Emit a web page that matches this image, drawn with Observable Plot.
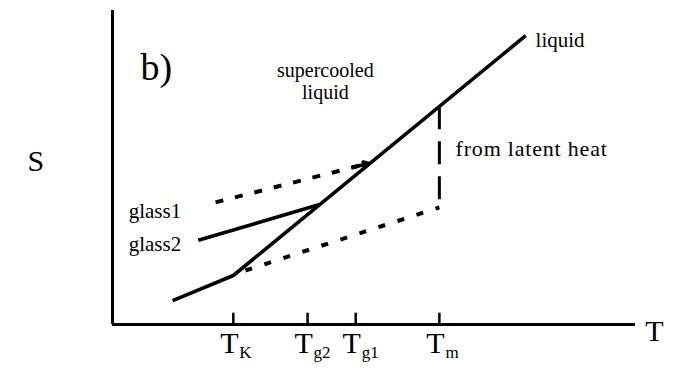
<!DOCTYPE html>
<html>
<head>
<meta charset="utf-8">
<script src="https://cdn.jsdelivr.net/npm/d3@7"></script>
<script src="https://cdn.jsdelivr.net/npm/@observablehq/plot@0.6"></script>
<style>
  body { margin: 0; background: #fff; }
  svg text { font-family: "Liberation Serif", "Times New Roman", serif; }
</style>
</head>
<body>
<div id="chart"></div>
<script>
// Entropy S versus temperature T: liquid, glasses and crystal (schematic units 0–100)

// ideal glass below T_K joined to the liquid / supercooled liquid branch
const liquidT = [11.5, 23.1, 79.0];
const liquidS = [7.6, 15.6, 92.0];

// glass2 (solid) leaving the supercooled liquid
const glass2T = [16.4, 39.6];
const glass2S = [26.8, 38.2];

// glass1 (dashed, with arrow onto the liquid line)
const glass1T = [19.7, 48.9];
const glass1S = [38.9, 51.3];

// crystal (dotted)
const crystalT = [25.4, 62.5];
const crystalS = [17.2, 37.3];

// entropy jump at the melting point, drawn downward from the liquid line
const latentT = [62.5, 62.5];
const latentS = [69.5, 37.3];

// temperature ticks and their subscripts
const tickT = [23.1, 37.3, 46.5, 62.5];
const tickSub = ["K", "g2", "g1", "m"];

// in-plot annotations
const noteText = ["liquid", "glass1", "glass2"];
const noteT = [80.9, 3.1, 3.1];
const noteS = [90.4, 36.0, 25.5];

const pts = (T, S) => T.map((t, i) => ({T: t, S: S[i]}));
const liquid = pts(liquidT, liquidS);
const glass2 = pts(glass2T, glass2S);
const glass1 = pts(glass1T, glass1S);
const crystal = pts(crystalT, crystalS);
const latent = pts(latentT, latentS);
const ticks = tickT.map((t, i) => ({T: t, sub: tickSub[i]}));
const notes = noteText.map((s, i) => ({text: s, T: noteT[i], S: noteS[i]}));

// short solid arrow on the last stretch of glass1
const [g1a, g1b] = glass1;
const f = 0.9;
const glass1Head = [{
  x1: g1a.T + f * (g1b.T - g1a.T), y1: g1a.S + f * (g1b.S - g1a.S),
  x2: g1b.T, y2: g1b.S
}];

const serif = "Liberation Serif";
const lineStyle = {x: "T", y: "S", stroke: "black", strokeWidth: 3.6, strokeLinecap: "butt", curve: "linear"};

const chart = Plot.plot({
  width: 675,
  height: 375,
  marginLeft: 112,
  marginRight: 40,
  marginTop: 10,
  marginBottom: 51,
  x: {domain: [0, 100], axis: null},
  y: {domain: [0, 100], axis: null},
  style: {fontFamily: serif, background: "white", color: "black"},
  marks: [
    // axes
    Plot.ruleX([0], {stroke: "black", strokeWidth: 3}),
    Plot.ruleY([0], {stroke: "black", strokeWidth: 3}),
    Plot.ruleX(ticks, {x: "T", y1: 0, y2: 3.6, stroke: "black", strokeWidth: 2.5}),

    // curves
    Plot.line(liquid, lineStyle),
    Plot.line(glass2, lineStyle),
    Plot.line(glass1, {...lineStyle, strokeWidth: 4, strokeDasharray: "8 12"}),
    Plot.arrow(glass1Head, {x1: "x1", y1: "y1", x2: "x2", y2: "y2", stroke: "black", strokeWidth: 3.6, headLength: 7, bend: 0}),
    Plot.line(crystal, {...lineStyle, strokeWidth: 4, strokeDasharray: "7 13"}),
    Plot.line(latent, {...lineStyle, strokeWidth: 3, strokeDasharray: "23 12"}),

    // tick labels: T with subscript
    Plot.text(ticks, {x: "T", text: () => "T", frameAnchor: "bottom", dx: -4, dy: 28, fontSize: 30, fontFamily: serif}),
    Plot.text(ticks, {x: "T", text: "sub", frameAnchor: "bottom", textAnchor: "start", dx: 6, dy: 33, fontSize: 17, fontFamily: serif}),

    // axis titles
    Plot.text(["S"], {frameAnchor: "left", dx: -85, dy: -6, fontSize: 30, fontFamily: serif}),
    Plot.text(["T"], {frameAnchor: "bottom-right", dx: 28, dy: 16, fontSize: 30, fontFamily: serif}),

    // annotations
    Plot.text(["b)"], {frameAnchor: "top-left", dx: 28, dy: 43, fontSize: 38, fontFamily: serif}),
    Plot.text(["supercooled\nliquid"], {x: [40.7], y: [77.7], fontSize: 20, lineHeight: 1.1, fontFamily: serif}),
    Plot.text(["from latent heat"], {x: [65.6], y: [56.0], textAnchor: "start", fontSize: 22, fontFamily: serif}),
    Plot.text(notes, {x: "T", y: "S", text: "text", textAnchor: "start", fontSize: 21, fontFamily: serif})
  ]
});

// a little extra tracking on the latent-heat note
d3.select(chart).selectAll("text")
  .filter(function () { return this.textContent === "from latent heat"; })
  .attr("letter-spacing", 0.8);

document.getElementById("chart").append(chart);
</script>
</body>
</html>
